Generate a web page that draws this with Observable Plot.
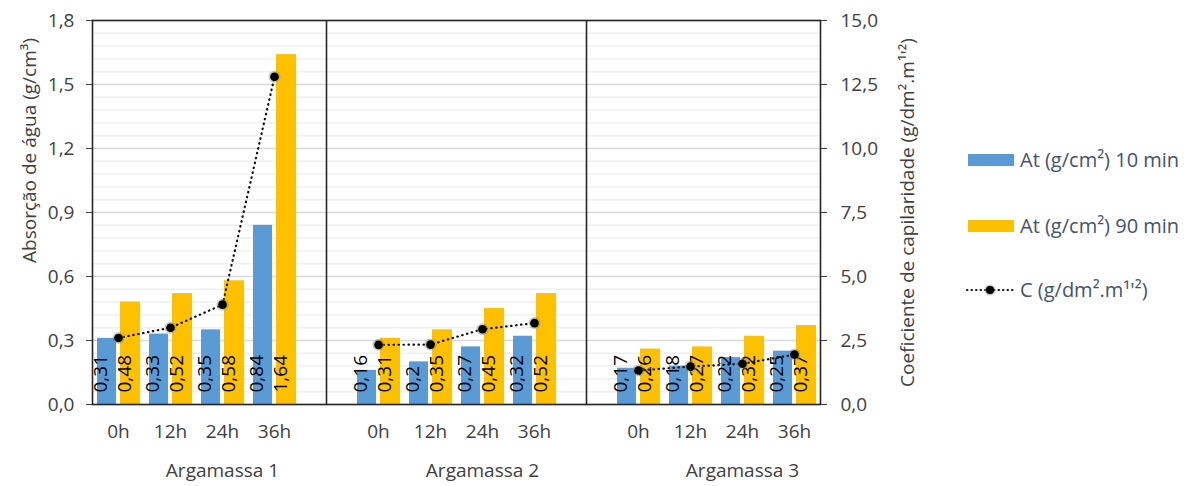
<!DOCTYPE html>
<html><head><meta charset="utf-8">
<script src="https://cdn.jsdelivr.net/npm/d3@7"></script>
<script src="https://cdn.jsdelivr.net/npm/@observablehq/plot@0.6"></script>
<style>
body{margin:0;background:#fff;font-family:"Open Sans",Lato,sans-serif;}
#wrap{position:relative;width:1184px;height:486px;}
.lg{position:absolute;left:1020px;font-size:20px;color:#44546a;white-space:nowrap;line-height:22px;}
.sw{position:absolute;left:968px;width:46px;height:12px;}
</style></head><body><div id="wrap"></div>
<script>
const groups = ["Argamassa 1","Argamassa 2","Argamassa 3"];
const times = ["0h","12h","24h","36h"];
const at10 = [[0.31,0.33,0.35,0.84],[0.16,0.2,0.27,0.32],[0.17,0.18,0.22,0.25]];
const at90 = [[0.48,0.52,0.58,1.64],[0.31,0.35,0.45,0.52],[0.26,0.27,0.32,0.37]];
const coefC = [[2.6,3.0,3.9,12.8],[2.33,2.34,2.94,3.18],[1.33,1.48,1.59,1.95]];
const leftTicks = [0,0.3,0.6,0.9,1.2,1.5,1.8];
const rightTicks = [0,2.5,5,7.5,10,12.5,15];
const leftMax = 1.8, rightMax = 15;
const k = leftMax/rightMax;
const fmt = (v,d) => v.toFixed(d).replace(".",",");
const lab = v => String(v).replace(".",",");

const slots = [];
const rows = [];
groups.forEach((g,gi) => {
  times.forEach((t,ti) => {
    const key = g+"|"+t;
    slots.push(key);
    rows.push({group:g, time:t, key, a10:at10[gi][ti], a90:at90[gi][ti], c:coefC[gi][ti], cs:coefC[gi][ti]*k});
  });
  if (gi < groups.length-1) slots.push("gap"+gi);
});
const gaps = slots.filter(s => s.startsWith("gap"));
const minor = d3.range(1, 30).map(i => i*0.06).filter(v => Math.abs(v/0.3 - Math.round(v/0.3)) > 1e-6);
const txt = "#404040";
const fs = 19;

const chart = Plot.plot({
  width: 1184, height: 486,
  marginLeft: 92, marginRight: 364, marginTop: 20, marginBottom: 82,
  style: {fontFamily: "'Open Sans', Lato, sans-serif", fontSize: fs+"px", background: "#fff"},
  x: {type: "band", domain: slots, padding: 0, axis: null},
  y: {domain: [0, leftMax], axis: null},
  marks: [
    Plot.ruleY(minor, {stroke: "#efefef", strokeWidth: 1.5}),
    Plot.ruleY(leftTicks, {stroke: "#d9d9d9", strokeWidth: 1.5}),
    Plot.barY(rows, {x: "key", y: "a10", fill: "#5b9bd5", insetLeft: 5, insetRight: 28}),
    Plot.barY(rows, {x: "key", y: "a90", fill: "#ffc000", insetLeft: 28, insetRight: 4}),
    Plot.text(rows, {x: "key", frameAnchor: "bottom", text: d => lab(d.a10), rotate: -90, textAnchor: "start", dx: -11.5, dy: -12, fontSize: fs, fill: "#000"}),
    Plot.text(rows, {x: "key", frameAnchor: "bottom", text: d => lab(d.a90), rotate: -90, textAnchor: "start", dx: 12, dy: -12, fontSize: fs, fill: "#000"}),
    Plot.line(rows, {x: "key", y: "cs", z: "group", stroke: "#111", strokeWidth: 2.2, strokeDasharray: "0.5 4.5", strokeLinecap: "round"}),
    Plot.dot(rows, {x: "key", y: "cs", r: 6, fill: "#888", fillOpacity: 0.45}),
    Plot.dot(rows, {x: "key", y: "cs", r: 4.3, fill: "#000"}),
    Plot.ruleX(gaps, {stroke: "#262626", strokeWidth: 1.6}),
    Plot.frame({stroke: "#262626", strokeWidth: 1.6}),
    Plot.axisY({anchor: "left", ticks: leftTicks, tickFormat: d => fmt(d,1), tickSize: 6, tickPadding: 12, fontSize: fs, color: txt, label: null}),
    Plot.axisY({anchor: "right", ticks: rightTicks.map(v => v*k), tickFormat: d => fmt(d/k,1), tickSize: 6, tickPadding: 14, fontSize: fs, color: txt, label: null}),
    Plot.text(rows, {x: "key", text: "time", frameAnchor: "bottom", dy: 33, fontSize: fs, fill: txt}),
    Plot.text(rows.filter(d => d.time === "24h"), {x: "key", text: "group", frameAnchor: "bottom", dy: 72, fontSize: fs, fill: txt}),
    Plot.text(["Absorção de água (g/cm³)"], {frameAnchor: "top-left", text: d => d, rotate: -90, textAnchor: "middle", dx: -70, dy: 130, fontSize: fs, fill: txt}),
    Plot.text(["Coeficiente de capilaridade (g/dm².m¹'²)"], {frameAnchor: "right", text: d => d, rotate: -90, textAnchor: "middle", dx: 87, fontSize: fs, fill: txt})
  ]
});
const wrap = document.getElementById("wrap");
wrap.appendChild(chart);
const legend = document.createElement("div");
legend.innerHTML = `
<div class="sw" style="top:154px;background:#5b9bd5"></div>
<div class="lg" style="top:149px">At (g/cm²) 10 min</div>
<div class="sw" style="top:220px;background:#ffc000"></div>
<div class="lg" style="top:215px">At (g/cm²) 90 min</div>
<svg style="position:absolute;left:964px;top:282px" width="52" height="16">
<line x1="3" y1="8" x2="49" y2="8" stroke="#111" stroke-width="2" stroke-dasharray="0.5 4" stroke-linecap="round"/>
<circle cx="26" cy="8" r="5.5" fill="#888" fill-opacity="0.45"/><circle cx="26" cy="8" r="4" fill="#000"/></svg>
<div class="lg" style="top:279px">C (g/dm².m¹'²)</div>`;
wrap.appendChild(legend);
</script></body></html>
